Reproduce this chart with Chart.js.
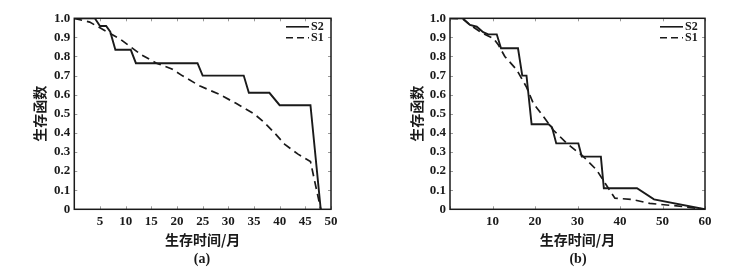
<!DOCTYPE html>
<html><head><meta charset="utf-8">
<script src="https://cdn.jsdelivr.net/npm/chart.js@4.4.1/dist/chart.umd.min.js"></script>
<style>
body{margin:0;width:735px;height:277px;background:#fff;position:relative;overflow:hidden}
.c{position:absolute;top:0}
.cap{position:absolute;font:bold 14px "Liberation Serif",serif;color:#1a1a1a;transform:translate(-50%,-50%)}
</style></head><body>
<div class="c" style="left:0"><canvas id="ca" width="367" height="277"></canvas></div>
<div class="c" style="left:367px"><canvas id="cb" width="368" height="277"></canvas></div>
<div class="cap" style="left:202px;top:259px">(a)</div>
<div class="cap" style="left:578px;top:259px">(b)</div>
<script>
// ---- data ----
const seriesLabels = ['S2', 'S1'];
const yTitle = '生存函数';
const xTitle = '生存时间/月';

const aS2_t = [0, 4, 5, 6.2, 7, 8, 11, 12, 24, 25, 33, 34, 38, 40, 46, 48];
const aS2_s = [1.0, 1.0, 0.96, 0.96, 0.93, 0.835, 0.835, 0.765, 0.765, 0.70, 0.70, 0.61, 0.61, 0.545, 0.545, 0];
const aS1_t = [0, 3, 5, 7, 9, 11, 13, 16, 19, 21, 24.5, 28, 31.5, 35, 37, 39, 41, 43.5, 46, 48];
const aS1_s = [1.0, 0.98, 0.95, 0.92, 0.89, 0.85, 0.81, 0.765, 0.735, 0.70, 0.645, 0.605, 0.555, 0.50, 0.455, 0.40, 0.34, 0.29, 0.25, 0];

const bS2_t = [0, 3, 4.7, 6.3, 7.8, 9, 11, 12, 16, 17, 18, 19.2, 23.2, 24, 25, 30.2, 31, 35.5, 36.2, 44, 48, 60];
const bS2_s = [1.0, 1.0, 0.965, 0.956, 0.927, 0.916, 0.916, 0.843, 0.843, 0.70, 0.70, 0.445, 0.445, 0.43, 0.345, 0.345, 0.276, 0.276, 0.11, 0.11, 0.052, 0];
const bS1_t = [0, 3, 4.7, 7.8, 10.2, 11.4, 12.9, 15.7, 18, 19.6, 22, 24.3, 27.5, 31.4, 34.5, 36.5, 38.8, 42.7, 47, 55, 60];
const bS1_s = [1.0, 0.997, 0.965, 0.92, 0.895, 0.86, 0.80, 0.73, 0.64, 0.555, 0.485, 0.415, 0.345, 0.276, 0.206, 0.136, 0.058, 0.052, 0.031, 0.014, 0];

const aXmax = 50, aXstep = 5;
const bXmax = 60, bXstep = 10;

// ---- helpers ----
const INK = '#1a1a1a';
const pts = (t, s) => t.map((v, i) => ({x: v, y: s[i]}));
const tickFont = {family: '"Liberation Serif", serif', weight: 'bold', size: 13};
const titleFont = {family: '"Noto Sans CJK SC", sans-serif', weight: 'bold', size: 14};

const boxPlugin = {
  id: 'box',
  afterDatasetsDraw(chart) {
    const {ctx, chartArea: a, scales: {x, y}} = chart;
    ctx.save();
    ctx.strokeStyle = '#999'; ctx.lineWidth = 1;
    x.ticks.forEach(t => {
      const px = Math.round(x.getPixelForValue(t.value)) + 0.5;
      ctx.beginPath(); ctx.moveTo(px, a.bottom); ctx.lineTo(px, a.bottom - 3);
      ctx.moveTo(px, a.top); ctx.lineTo(px, a.top + 3); ctx.stroke();
    });
    y.ticks.forEach(t => {
      const py = Math.round(y.getPixelForValue(t.value)) + 0.5;
      ctx.beginPath(); ctx.moveTo(a.left, py); ctx.lineTo(a.left + 3, py);
      ctx.moveTo(a.right, py); ctx.lineTo(a.right - 3, py); ctx.stroke();
    });
    ctx.strokeStyle = INK; ctx.lineWidth = 1.5;
    ctx.strokeRect(a.left, a.top, a.right - a.left, a.bottom - a.top);
    ctx.font = 'bold 12px "Liberation Serif", serif';
    ctx.textBaseline = 'middle'; ctx.fillStyle = INK;
    chart.data.datasets.forEach((ds, i) => {
      const yy = a.top + 8.5 + i * 11;
      ctx.strokeStyle = INK; ctx.lineWidth = 1.6;
      ctx.setLineDash(ds.borderDash && ds.borderDash.length ? [7, 4] : []);
      ctx.beginPath(); ctx.moveTo(a.right - 45, yy); ctx.lineTo(a.right - 22, yy); ctx.stroke();
      ctx.setLineDash([]);
      ctx.fillText(ds.label, a.right - 20, yy);
    });
    ctx.restore();
  }
};

function make(id, s2t, s2s, s1t, s1s, xmax, xstep, padL, yW, padR) {
  new Chart(document.getElementById(id), {
    type: 'scatter',
    data: {
      datasets: [
        {label: seriesLabels[0], data: pts(s2t, s2s), showLine: true, borderColor: INK, borderWidth: 1.9, pointRadius: 0, tension: 0},
        {label: seriesLabels[1], data: pts(s1t, s1s), showLine: true, borderColor: INK, borderWidth: 1.7, borderDash: [8, 5], pointRadius: 0, tension: 0}
      ]
    },
    options: {
      responsive: false, animation: false,
      layout: {padding: {left: padL, right: padR, top: 18.3, bottom: 29.3}},
      plugins: {legend: {display: false}, tooltip: {enabled: false}},
      scales: {
        x: {
          type: 'linear', min: 0, max: xmax,
          border: {display: false},
          grid: {display: false, drawTicks: false},
          ticks: {stepSize: xstep, color: INK, font: tickFont, padding: 5, maxRotation: 0,
                  callback: v => v === 0 ? '' : String(v)},
          title: {display: true, text: xTitle, color: INK, font: titleFont, padding: 0},
          afterFit: s => { s.height = 38.4; }
        },
        y: {
          min: 0, max: 1,
          border: {display: false},
          grid: {display: false, drawTicks: false},
          ticks: {stepSize: 0.1, color: INK, font: tickFont, padding: 4,
                  callback: v => Math.abs(v) < 1e-9 ? '0' : Number(v).toFixed(1)},
          title: {display: true, text: yTitle, color: INK, font: titleFont, padding: 0},
          afterFit: s => { s.width = yW; }
        }
      }
    },
    plugins: [boxPlugin]
  });
}

make('ca', aS2_t, aS2_s, aS1_t, aS1_s, aXmax, aXstep, 31.6, 42.7, 36);
make('cb', bS2_t, bS2_s, bS1_t, bS1_s, bXmax, bXstep, 41.3, 41.7, 30);
</script>
</body></html>
